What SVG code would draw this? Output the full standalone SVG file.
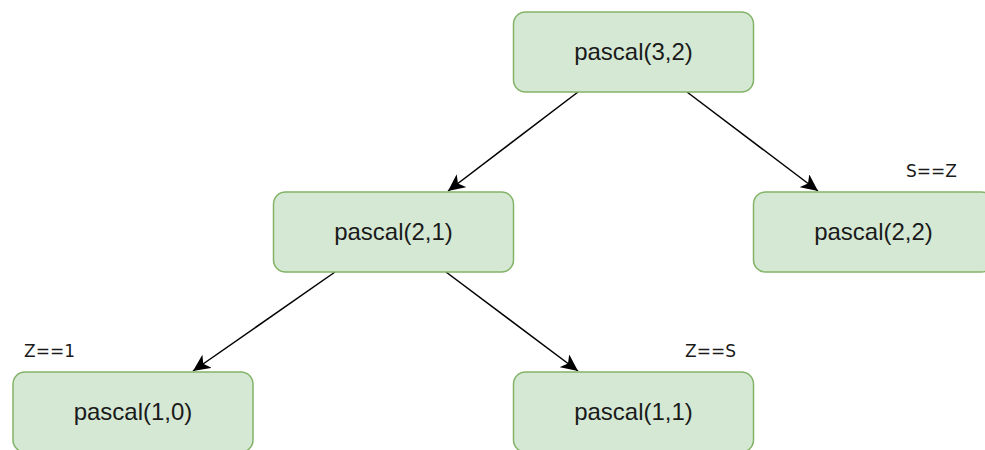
<svg xmlns="http://www.w3.org/2000/svg" width="985" height="450" viewBox="0 0 985 450">
  <style>
    .box { fill: #d5e8d4; stroke: #82b366; stroke-width: 1.5; }
    .lbl { font-family: "Liberation Sans", Arial, sans-serif; font-size: 24px; fill: #1a1a1a; text-anchor: middle; }
    .note { font-family: "DejaVu Sans", sans-serif; font-size: 17px; fill: #1a1a1a; }
    .edge { stroke: #000; stroke-width: 1.5; fill: none; marker-end: url(#arr); }
  </style>
  <defs>
    <marker id="arr" markerUnits="userSpaceOnUse" markerWidth="18" markerHeight="16" viewBox="0 0 18 16" refX="17" refY="8" orient="auto">
      <path d="M0,0 L17,8 L0,16 L4.5,8 Z" fill="#000"/>
    </marker>
  </defs>
  <rect width="985" height="450" fill="#fff"/>
  <g id="connectors">
    <line class="edge" x1="578" y1="92" x2="448" y2="191"/>
    <line class="edge" x1="687" y1="92" x2="818" y2="191"/>
    <line class="edge" x1="335" y1="272" x2="193" y2="371"/>
    <line class="edge" x1="446" y1="272" x2="578" y2="371"/>
  </g>
  <g id="n32">
    <rect class="box" x="513.5" y="12" width="240" height="80" rx="12"/>
    <text class="lbl" x="633.5" y="60">pascal(3,2)</text>
  </g>
  <g id="n21">
    <rect class="box" x="273.5" y="192" width="240" height="80" rx="12"/>
    <text class="lbl" x="393.5" y="240">pascal(2,1)</text>
  </g>
  <g id="n22">
    <rect class="box" x="753.5" y="192" width="240" height="80" rx="12"/>
    <text class="lbl" x="873.5" y="240">pascal(2,2)</text>
  </g>
  <g id="n10">
    <rect class="box" x="13" y="372" width="240" height="80" rx="12"/>
    <text class="lbl" x="133" y="420">pascal(1,0)</text>
  </g>
  <g id="n11">
    <rect class="box" x="513.5" y="372" width="240" height="80" rx="12"/>
    <text class="lbl" x="633.5" y="420">pascal(1,1)</text>
  </g>
  <g id="notes">
    <text class="note" x="906" y="177">S==Z</text>
    <text class="note" x="24" y="357">Z==1</text>
    <text class="note" x="685" y="357">Z==S</text>
  </g>
</svg>
